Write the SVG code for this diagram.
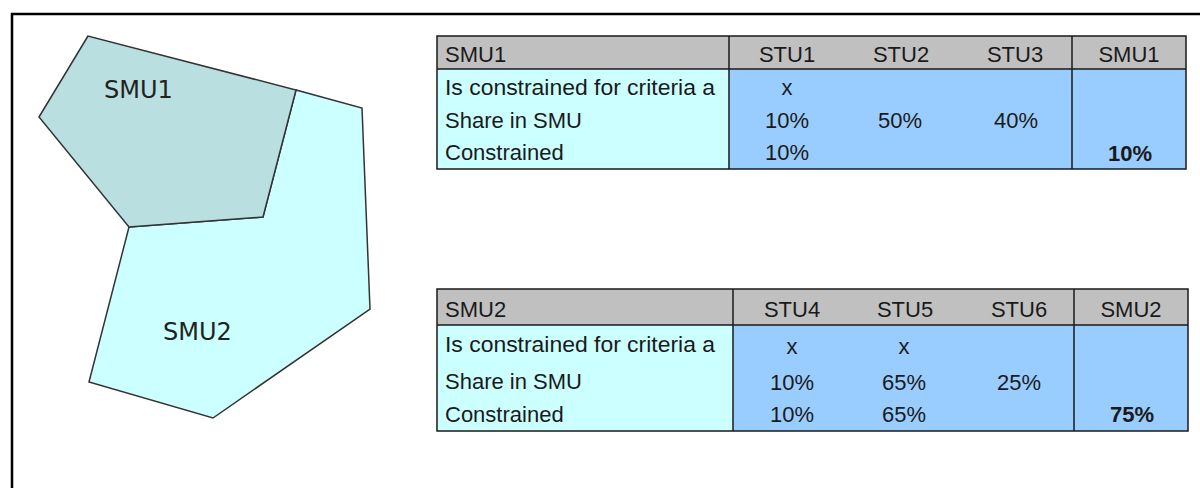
<svg xmlns="http://www.w3.org/2000/svg" width="1200" height="488" viewBox="0 0 1200 488">
<style>
.poly{stroke:#333;stroke-width:1.5;stroke-linejoin:miter}
.map{font-family:"DejaVu Sans",sans-serif;font-size:24px;fill:#222}
.t{font-family:"Liberation Sans",Arial,sans-serif;font-size:22px;fill:#1a1a1a}
.c{text-anchor:middle}
.b{font-weight:bold}
.hdr{fill:#C0C0C0}
.lab{fill:#CCFFFF}
.dat{fill:#99CCFF}
.ln{stroke:#1a1a1a;stroke-width:1.5;fill:none}
</style>
<rect width="1200" height="488" fill="#fff"/>
<path d="M12 488 V14 H1200" fill="none" stroke="#000" stroke-width="2.5"/>
<g id="smu2-shape">
<polygon class="poly" fill="#CCFFFF" points="129,227 263,217 296,90 362,108 370,309 213,418 89,382"/>
<text class="map" x="163" y="340">SMU2</text>
</g>
<g id="smu1-shape">
<polygon class="poly" fill="#B9DFE0" points="88,36 39,117 129,227 263,217 296,90"/>
<text class="map" x="104" y="98">SMU1</text>
</g>
<g id="table-smu1">
<rect class="hdr" x="437" y="36" width="749" height="33"/>
<rect class="lab" x="437" y="69" width="292" height="100"/>
<rect class="dat" x="729" y="69" width="457" height="100"/>
<rect class="ln" x="437" y="36" width="749" height="133"/>
<path class="ln" d="M437 69 H1186 M729 36 V169 M1072 36 V169"/>
<text class="t" x="445" y="62">SMU1</text>
<text class="t c" x="787" y="62">STU1</text>
<text class="t c" x="901" y="62">STU2</text>
<text class="t c" x="1015" y="62">STU3</text>
<text class="t c" x="1129" y="62">SMU1</text>
<text class="t" x="445" y="95" textLength="270" lengthAdjust="spacingAndGlyphs">Is constrained for criteria a</text>
<text class="t" x="445" y="128">Share in SMU</text>
<text class="t" x="445" y="160">Constrained</text>
<text class="t c" x="787" y="95">x</text>
<text class="t c" x="787" y="128">10%</text>
<text class="t c" x="787" y="160">10%</text>
<text class="t c" x="900" y="128">50%</text>
<text class="t c" x="1016" y="128">40%</text>
<text class="t c b" x="1130" y="161">10%</text>
</g>
<g id="table-smu2">
<rect class="hdr" x="437" y="289" width="751" height="36"/>
<rect class="lab" x="437" y="325" width="296" height="106"/>
<rect class="dat" x="733" y="325" width="455" height="106"/>
<rect class="ln" x="437" y="289" width="751" height="142"/>
<path class="ln" d="M437 325 H1188 M733 289 V431 M1074 289 V431"/>
<text class="t" x="445" y="317">SMU2</text>
<text class="t c" x="792" y="317">STU4</text>
<text class="t c" x="905" y="317">STU5</text>
<text class="t c" x="1019" y="317">STU6</text>
<text class="t c" x="1131" y="317">SMU2</text>
<text class="t" x="445" y="352" textLength="270" lengthAdjust="spacingAndGlyphs">Is constrained for criteria a</text>
<text class="t" x="445" y="389">Share in SMU</text>
<text class="t" x="445" y="422">Constrained</text>
<text class="t c" x="792" y="354">x</text>
<text class="t c" x="792" y="390">10%</text>
<text class="t c" x="792" y="422">10%</text>
<text class="t c" x="904" y="354">x</text>
<text class="t c" x="904" y="390">65%</text>
<text class="t c" x="904" y="422">65%</text>
<text class="t c" x="1019" y="390">25%</text>
<text class="t c b" x="1132" y="422">75%</text>
</g>
<g id="connectors"/>
</svg>
